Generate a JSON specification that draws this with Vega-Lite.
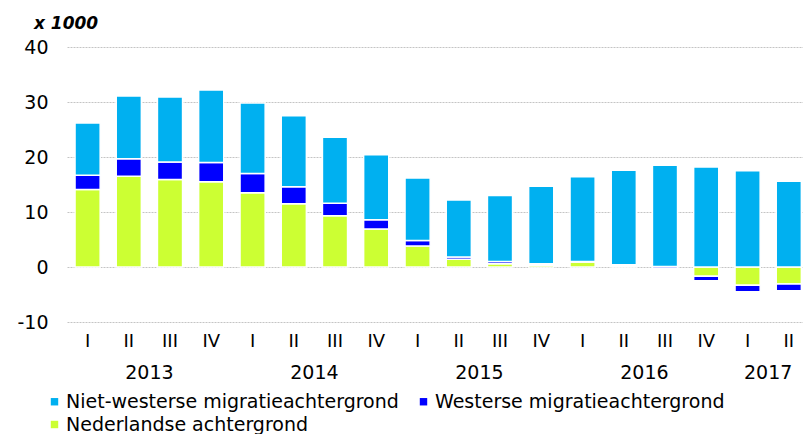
{
  "$schema": "https://vega.github.io/schema/vega-lite/v6.json",
  "padding": {"left": 16, "top": 15, "right": 0, "bottom": 0},
  "title": {"text": "x 1000", "anchor": "start", "frame": "bounds", "fontSize": 17, "fontWeight": "bold", "fontStyle": "italic", "font": "DejaVu Sans", "color": "black", "dx": 17, "offset": 5},
  "data": {"values": [
    {"jaar": "2013", "kwartaal": "I", "groep": "Nederlandse achtergrond", "volgorde": 1, "waarde": 14.1},
    {"jaar": "2013", "kwartaal": "I", "groep": "Westerse migratieachtergrond", "volgorde": 2, "waarde": 2.6},
    {"jaar": "2013", "kwartaal": "I", "groep": "Niet-westerse migratieachtergrond", "volgorde": 3, "waarde": 9.5},
    {"jaar": "2013", "kwartaal": "II", "groep": "Nederlandse achtergrond", "volgorde": 1, "waarde": 16.5},
    {"jaar": "2013", "kwartaal": "II", "groep": "Westerse migratieachtergrond", "volgorde": 2, "waarde": 3.2},
    {"jaar": "2013", "kwartaal": "II", "groep": "Niet-westerse migratieachtergrond", "volgorde": 3, "waarde": 11.4},
    {"jaar": "2013", "kwartaal": "III", "groep": "Nederlandse achtergrond", "volgorde": 1, "waarde": 15.9},
    {"jaar": "2013", "kwartaal": "III", "groep": "Westerse migratieachtergrond", "volgorde": 2, "waarde": 3.2},
    {"jaar": "2013", "kwartaal": "III", "groep": "Niet-westerse migratieachtergrond", "volgorde": 3, "waarde": 11.8},
    {"jaar": "2013", "kwartaal": "IV", "groep": "Nederlandse achtergrond", "volgorde": 1, "waarde": 15.5},
    {"jaar": "2013", "kwartaal": "IV", "groep": "Westerse migratieachtergrond", "volgorde": 2, "waarde": 3.5},
    {"jaar": "2013", "kwartaal": "IV", "groep": "Niet-westerse migratieachtergrond", "volgorde": 3, "waarde": 13.2},
    {"jaar": "2014", "kwartaal": "I", "groep": "Nederlandse achtergrond", "volgorde": 1, "waarde": 13.5},
    {"jaar": "2014", "kwartaal": "I", "groep": "Westerse migratieachtergrond", "volgorde": 2, "waarde": 3.5},
    {"jaar": "2014", "kwartaal": "I", "groep": "Niet-westerse migratieachtergrond", "volgorde": 3, "waarde": 12.8},
    {"jaar": "2014", "kwartaal": "II", "groep": "Nederlandse achtergrond", "volgorde": 1, "waarde": 11.5},
    {"jaar": "2014", "kwartaal": "II", "groep": "Westerse migratieachtergrond", "volgorde": 2, "waarde": 3.1},
    {"jaar": "2014", "kwartaal": "II", "groep": "Niet-westerse migratieachtergrond", "volgorde": 3, "waarde": 12.9},
    {"jaar": "2014", "kwartaal": "III", "groep": "Nederlandse achtergrond", "volgorde": 1, "waarde": 9.3},
    {"jaar": "2014", "kwartaal": "III", "groep": "Westerse migratieachtergrond", "volgorde": 2, "waarde": 2.3},
    {"jaar": "2014", "kwartaal": "III", "groep": "Niet-westerse migratieachtergrond", "volgorde": 3, "waarde": 12.0},
    {"jaar": "2014", "kwartaal": "IV", "groep": "Nederlandse achtergrond", "volgorde": 1, "waarde": 6.9},
    {"jaar": "2014", "kwartaal": "IV", "groep": "Westerse migratieachtergrond", "volgorde": 2, "waarde": 1.7},
    {"jaar": "2014", "kwartaal": "IV", "groep": "Niet-westerse migratieachtergrond", "volgorde": 3, "waarde": 11.8},
    {"jaar": "2015", "kwartaal": "I", "groep": "Nederlandse achtergrond", "volgorde": 1, "waarde": 3.8},
    {"jaar": "2015", "kwartaal": "I", "groep": "Westerse migratieachtergrond", "volgorde": 2, "waarde": 1.0},
    {"jaar": "2015", "kwartaal": "I", "groep": "Niet-westerse migratieachtergrond", "volgorde": 3, "waarde": 11.4},
    {"jaar": "2015", "kwartaal": "II", "groep": "Nederlandse achtergrond", "volgorde": 1, "waarde": 1.4},
    {"jaar": "2015", "kwartaal": "II", "groep": "Westerse migratieachtergrond", "volgorde": 2, "waarde": 0.4},
    {"jaar": "2015", "kwartaal": "II", "groep": "Niet-westerse migratieachtergrond", "volgorde": 3, "waarde": 10.4},
    {"jaar": "2015", "kwartaal": "III", "groep": "Nederlandse achtergrond", "volgorde": 1, "waarde": 0.6},
    {"jaar": "2015", "kwartaal": "III", "groep": "Westerse migratieachtergrond", "volgorde": 2, "waarde": 0.4},
    {"jaar": "2015", "kwartaal": "III", "groep": "Niet-westerse migratieachtergrond", "volgorde": 3, "waarde": 12.0},
    {"jaar": "2015", "kwartaal": "IV", "groep": "Nederlandse achtergrond", "volgorde": 1, "waarde": 0.3},
    {"jaar": "2015", "kwartaal": "IV", "groep": "Westerse migratieachtergrond", "volgorde": 2, "waarde": 0.3},
    {"jaar": "2015", "kwartaal": "IV", "groep": "Niet-westerse migratieachtergrond", "volgorde": 3, "waarde": 14.1},
    {"jaar": "2016", "kwartaal": "I", "groep": "Nederlandse achtergrond", "volgorde": 1, "waarde": 0.9},
    {"jaar": "2016", "kwartaal": "I", "groep": "Westerse migratieachtergrond", "volgorde": 2, "waarde": 0.1},
    {"jaar": "2016", "kwartaal": "I", "groep": "Niet-westerse migratieachtergrond", "volgorde": 3, "waarde": 15.4},
    {"jaar": "2016", "kwartaal": "II", "groep": "Nederlandse achtergrond", "volgorde": 1, "waarde": 0.2},
    {"jaar": "2016", "kwartaal": "II", "groep": "Westerse migratieachtergrond", "volgorde": 2, "waarde": 0.2},
    {"jaar": "2016", "kwartaal": "II", "groep": "Niet-westerse migratieachtergrond", "volgorde": 3, "waarde": 17.2},
    {"jaar": "2016", "kwartaal": "III", "groep": "Nederlandse achtergrond", "volgorde": 1, "waarde": 0.1},
    {"jaar": "2016", "kwartaal": "III", "groep": "Westerse migratieachtergrond", "volgorde": 2, "waarde": -0.3},
    {"jaar": "2016", "kwartaal": "III", "groep": "Niet-westerse migratieachtergrond", "volgorde": 3, "waarde": 18.4},
    {"jaar": "2016", "kwartaal": "IV", "groep": "Nederlandse achtergrond", "volgorde": 1, "waarde": -1.7},
    {"jaar": "2016", "kwartaal": "IV", "groep": "Westerse migratieachtergrond", "volgorde": 2, "waarde": -0.8},
    {"jaar": "2016", "kwartaal": "IV", "groep": "Niet-westerse migratieachtergrond", "volgorde": 3, "waarde": 18.2},
    {"jaar": "2017", "kwartaal": "I", "groep": "Nederlandse achtergrond", "volgorde": 1, "waarde": -3.3},
    {"jaar": "2017", "kwartaal": "I", "groep": "Westerse migratieachtergrond", "volgorde": 2, "waarde": -1.2},
    {"jaar": "2017", "kwartaal": "I", "groep": "Niet-westerse migratieachtergrond", "volgorde": 3, "waarde": 17.5},
    {"jaar": "2017", "kwartaal": "II", "groep": "Nederlandse achtergrond", "volgorde": 1, "waarde": -3.1},
    {"jaar": "2017", "kwartaal": "II", "groep": "Westerse migratieachtergrond", "volgorde": 2, "waarde": -1.2},
    {"jaar": "2017", "kwartaal": "II", "groep": "Niet-westerse migratieachtergrond", "volgorde": 3, "waarde": 15.6}
  ]},
  "facet": {
    "column": {
      "field": "jaar",
      "type": "ordinal",
      "header": {"title": null, "labelOrient": "bottom", "labelFontSize": 19, "labelFont": "DejaVu Sans", "labelColor": "black", "labelPadding": 14}
    }
  },
  "spacing": 0,
  "resolve": {"scale": {"x": "independent"}},
  "spec": {
    "width": {"step": 41.2},
    "height": 275,
    "mark": {"type": "bar", "stroke": "white", "strokeWidth": 1.5},
    "encoding": {
      "x": {
        "field": "kwartaal",
        "type": "ordinal",
        "scale": {"paddingInner": 0.39, "paddingOuter": 0.195},
        "axis": {"title": null, "domain": false, "ticks": false, "labelAngle": 0, "labelFontSize": 18, "labelColor": "black", "labelPadding": 10, "grid": false}
      },
      "y": {
        "field": "waarde",
        "type": "quantitative",
        "stack": "zero",
        "scale": {"domain": [-10, 40], "nice": false},
        "axis": {"title": null, "values": [-10, 0, 10, 20, 30, 40], "grid": true, "gridColor": "#c4c4c4", "gridDash": [2, 1], "domain": false, "ticks": false, "labelFontSize": 19, "labelColor": "black", "labelPadding": 19, "labelExpr": "'' + datum.value"}
      },
      "order": {"field": "volgorde", "type": "quantitative", "sort": "ascending"},
      "color": {
        "field": "groep",
        "type": "nominal",
        "scale": {
          "domain": ["Niet-westerse migratieachtergrond", "Westerse migratieachtergrond", "Nederlandse achtergrond"],
          "range": ["#00b0f0", "#0000ff", "#ccff33"]
        },
        "legend": {"title": null, "orient": "none", "direction": "horizontal", "legendX": -22, "legendY": 345, "columns": 2, "columnPadding": 15, "rowPadding": 3, "labelFontSize": 19, "labelLimit": 0, "labelColor": "black", "labelFont": "DejaVu Sans", "symbolType": "square", "symbolSize": 55, "symbolStrokeWidth": 0, "labelOffset": 2, "padding": 0}
      }
    }
  },
  "config": {"font": "DejaVu Sans", "view": {"stroke": null}}
}
